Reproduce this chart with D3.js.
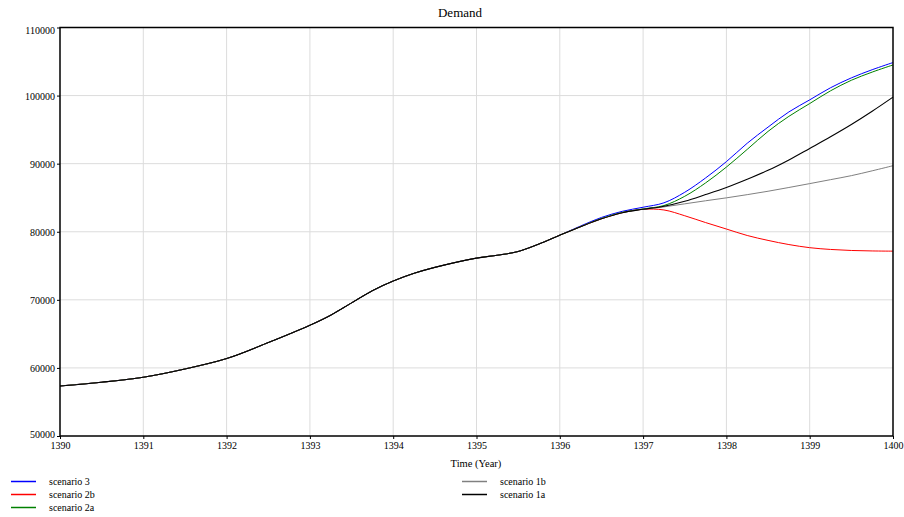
<!DOCTYPE html>
<meta charset="utf-8">
<script src="https://d3js.org/d3.v7.min.js"></script>
<style>
  body { margin: 0; background: #fff; }
  svg text { font-family: "Liberation Serif", "Times New Roman", "DejaVu Serif", "Noto Serif", serif; fill: #000; }
  .grid line { stroke: #dcdcdc; stroke-width: 1; }
</style>
<div id="my_dataviz"></div>
<script>
  var width = 904, height = 517;
  var plotLeft = 60, plotRight = 893, plotTop = 27.5, plotBottom = 436;
  var serif = "'Liberation Serif', 'Times New Roman', 'DejaVu Serif', serif";

  // time axis (years), finer steps where the curve bends
  var years = [1390, 1390.5, 1391, 1391.5, 1392, 1392.5, 1393, 1393.25, 1393.5, 1393.75, 1394, 1394.25, 1394.5,
    1395, 1395.25, 1395.5, 1395.75, 1396,
    1396.25, 1396.5, 1396.75, 1397, 1397.25, 1397.5, 1397.75, 1398, 1398.25, 1398.5, 1398.75,
    1399, 1399.25, 1399.5, 1399.75, 1400];

  // common history 1390..1396
  var baseDemand = [57350, 57900, 58630, 59850, 61370, 63720, 66270, 67750, 69550, 71350, 72760, 73890, 74770,
    76130, 76550, 77100, 78200, 79500];

  // each scenario from 1396.25 to 1400
  var scenario3 = [80850, 82100, 83000, 83600, 84250, 85800, 87900, 90300, 93000, 95370, 97600, 99370, 101150, 102600, 103800, 104850];
  var scenario2b = [80750, 81900, 82800, 83300, 83200, 82350, 81350, 80400, 79450, 78730, 78120, 77660, 77400, 77250, 77180, 77150];
  var scenario2a = [80750, 81950, 82850, 83350, 83850, 85210, 87170, 89500, 92100, 94740, 96950, 98830, 100700, 102250, 103450, 104500];
  var scenario1b = [80750, 81900, 82800, 83300, 83650, 84100, 84550, 84980, 85450, 85950, 86500, 87070, 87650, 88240, 88950, 89700];
  var scenario1a = [80750, 81900, 82800, 83300, 83750, 84480, 85460, 86500, 87700, 89020, 90550, 92240, 93950, 95750, 97700, 99770];

  var xTicks = d3.range(1390, 1401, 1);
  var yTicks = d3.range(50000, 110001, 10000);

  var series = [
    { name: "scenario 3", color: "#0000ff", width: 1, values: scenario3 },
    { name: "scenario 2b", color: "#ff0000", width: 1, values: scenario2b },
    { name: "scenario 2a", color: "#008000", width: 1, values: scenario2a },
    { name: "scenario 1b", color: "#808080", width: 1, values: scenario1b },
    { name: "scenario 1a", color: "#000000", width: 1.1, values: scenario1a }
  ];

  var svg = d3.select("#my_dataviz").append("svg")
    .attr("width", width)
    .attr("height", height);

  var x = d3.scaleLinear().domain([1390, 1400]).range([plotLeft, plotRight]);
  var y = d3.scaleLinear().domain([50000, 110000]).range([plotBottom, plotTop]);

  // grid
  var grid = svg.append("g").attr("class", "grid");
  grid.selectAll(".vx").data(xTicks.slice(1, -1)).enter().append("line")
    .attr("x1", d => x(d)).attr("x2", d => x(d))
    .attr("y1", plotTop).attr("y2", plotBottom);
  grid.selectAll(".hy").data(yTicks.slice(1, -1)).enter().append("line")
    .attr("x1", plotLeft).attr("x2", plotRight)
    .attr("y1", d => y(d)).attr("y2", d => y(d));

  // lines
  var line = d3.line()
    .x(d => x(d[0]))
    .y(d => y(d[1]))
    .curve(d3.curveCatmullRom.alpha(0.5));

  series.forEach(function (s) {
    var vals = baseDemand.concat(s.values);
    var pts = years.map((yr, i) => [yr, vals[i]]);
    svg.append("path")
      .datum(pts)
      .attr("fill", "none")
      .attr("stroke", s.color)
      .attr("stroke-width", s.width)
      .attr("d", line);
  });

  // frame
  svg.append("rect")
    .attr("x", plotLeft).attr("y", plotTop)
    .attr("width", plotRight - plotLeft).attr("height", plotBottom - plotTop)
    .attr("fill", "none").attr("stroke", "#000").attr("stroke-width", 1.5);

  // axes
  var yAxis = svg.append("g")
    .attr("transform", "translate(" + plotLeft + ",0)")
    .attr("font-family", serif)
    .call(d3.axisLeft(y).tickValues(yTicks).tickSize(3).tickFormat(d3.format("d")));
  yAxis.select(".domain").remove();
  yAxis.selectAll("text").attr("font-size", 10).attr("dx", 1)
    .attr("dy", d => d === 110000 ? "0.6em" : d === 50000 ? "0.1em" : "0.35em");
  yAxis.selectAll("line").attr("stroke", "#000");

  var xAxis = svg.append("g")
    .attr("transform", "translate(0," + plotBottom + ")")
    .attr("font-family", serif)
    .call(d3.axisBottom(x).tickValues(xTicks).tickSize(3).tickFormat(d3.format("d")));
  xAxis.select(".domain").remove();
  xAxis.selectAll("text").attr("font-size", 10).attr("y", 5.5);
  xAxis.selectAll("line").attr("stroke", "#000");

  // titles
  svg.append("text")
    .attr("x", 460).attr("y", 17)
    .attr("text-anchor", "middle")
    .attr("font-family", serif)
    .attr("font-size", 13)
    .text("Demand");

  svg.append("text")
    .attr("x", 476).attr("y", 467)
    .attr("text-anchor", "middle")
    .attr("font-family", serif)
    .attr("font-size", 10.5)
    .text("Time (Year)");

  // legend
  var legendPos = [
    { lx: 11, ty: 481.5 }, { lx: 11, ty: 494.5 }, { lx: 11, ty: 507.5 },
    { lx: 462, ty: 481.5 }, { lx: 462, ty: 494.5 }
  ];
  var legend = svg.append("g");
  series.forEach(function (s, i) {
    var p = legendPos[i];
    legend.append("line")
      .attr("x1", p.lx).attr("x2", p.lx + 25)
      .attr("y1", p.ty).attr("y2", p.ty)
      .attr("stroke", s.color).attr("stroke-width", 1.5);
    legend.append("text")
      .attr("x", p.lx + 38).attr("y", p.ty + 3.5)
      .attr("font-family", serif)
      .attr("font-size", 10)
      .text(s.name);
  });
</script>
